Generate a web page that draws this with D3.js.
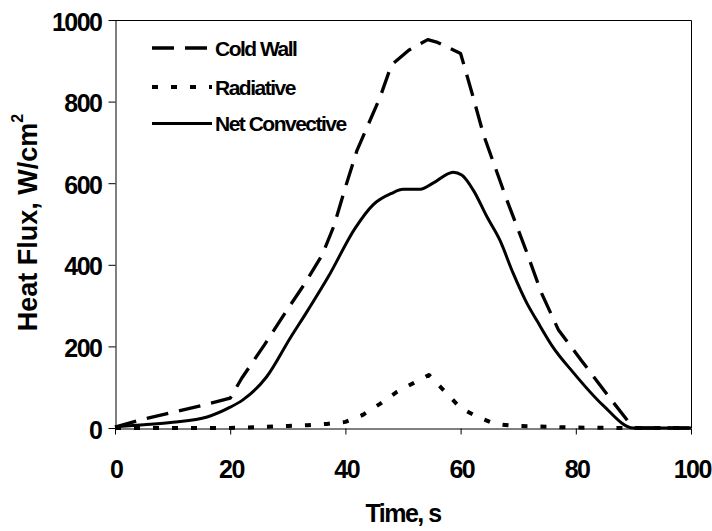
<!DOCTYPE html>
<html><head><meta charset="utf-8">
<script src="https://cdn.jsdelivr.net/npm/d3@7"></script>
<style>html,body{margin:0;padding:0;background:#fff;}svg{display:block;}</style>
</head><body>
<script>
const xTicks = [0, 20, 40, 60, 80, 100];
const yTicks = [0, 200, 400, 600, 800, 1000];
const seriesNames = ["Cold Wall", "Radiative", "Net Convective"];

const coldWallT = [0, 5, 10, 15, 20, 22, 26, 30, 33, 36, 38, 40, 42, 46, 48, 51, 54.3, 56, 60, 62, 64, 68, 71.5, 74, 77, 81, 86, 90, 95, 100];
const coldWallV = [2, 22, 38, 55, 73, 122, 205, 292, 355, 425, 495, 590, 680, 810, 890, 926, 952, 945, 918, 820, 718, 560, 430, 332, 240, 165, 72, 0, 0, 0];

const radiativeT = [0, 10, 20, 25, 30, 33.3, 36.8, 40, 43, 46, 49, 54.5, 57.3, 60, 63, 66, 69.4, 72.5, 80, 90, 100];
const radiativeV = [0, 0, 0, 2, 5, 7, 10, 15, 32, 59, 89, 130, 89, 49, 27, 10, 5, 4, 1, 0, 0];

const netConvT = [0, 5, 10, 16, 20, 22.2, 26.3, 30.4, 33.5, 37, 41.7, 44.8, 48, 50, 53, 55.2, 58.7, 60.2, 62.2, 64.6, 66.8, 69.1, 71.5, 73.3, 76, 79.5, 84.7, 90, 95, 100];
const netConvV = [3, 8, 14, 27, 51, 69, 125, 220, 289, 370, 490, 547, 575, 585, 585, 600, 627, 620, 583, 517, 461, 380, 306, 262, 199, 137, 56, 0, 0, 0];

const W = 712, H = 531;
const L = 115, R = 691, T = 20, B = 428;
const FONT = '"Liberation Sans", Arial, Helvetica, sans-serif';

const svg = d3.select("body").append("svg").attr("width", W).attr("height", H);
const x = d3.scaleLinear().domain([0, 100]).range([L, R]);
const y = d3.scaleLinear().domain([0, 1000]).range([B, T]);

// frame (top/right)
svg.append("path").attr("d", `M${L},${T + 0.5}H${R + 0.5}V${B}`)
  .attr("fill", "none").attr("stroke", "#000").attr("stroke-width", 1);

// axes
const gy = svg.append("g").attr("transform", `translate(${L + 0.5},0)`)
  .call(d3.axisLeft(y).tickValues(yTicks).tickFormat(d3.format("d")).tickSize(7).tickPadding(8).tickSizeOuter(0));
const gx = svg.append("g").attr("transform", `translate(0,${B + 0.5})`)
  .call(d3.axisBottom(x).tickValues(xTicks).tickFormat(d3.format("d")).tickSize(6).tickPadding(8).tickSizeOuter(0));
[gy, gx].forEach(g => {
  g.select(".domain").attr("stroke", "#000");
  g.selectAll(".tick line").attr("stroke", "#000");
  g.selectAll("text").attr("font-family", FONT).attr("font-size", 25)
    .attr("font-weight", "bold").attr("letter-spacing", "-1.5px").attr("fill", "#000");
});
gy.selectAll("text").attr("x", -14).attr("dy", "0.4em");
gx.selectAll("text").attr("y", 49).attr("dy", 0).attr("dx", "0.75");

// lines
const series = [
  { name: seriesNames[0], t: coldWallT, v: coldWallV, dash: "22,11", width: 3.3, curve: d3.curveLinear },
  { name: seriesNames[1], t: radiativeT, v: radiativeV, dash: "6,13", width: 4, curve: d3.curveLinear },
  { name: seriesNames[2], t: netConvT, v: netConvV, dash: null, width: 3, curve: d3.curveMonotoneX }
];
series.forEach(s => {
  const pts = s.t.map((t, i) => [t, s.v[i]]);
  const line = d3.line().x(d => x(d[0])).y(d => y(d[1])).curve(s.curve);
  svg.append("path").attr("d", line(pts)).attr("fill", "none")
    .attr("stroke", "#000").attr("stroke-width", s.width)
    .attr("stroke-dasharray", s.dash).attr("stroke-linejoin", "round");
});

// legend
const legY = [48, 87, 123.5];
series.forEach((s, i) => {
  svg.append("line").attr("x1", 152).attr("x2", 212).attr("y1", legY[i]).attr("y2", legY[i])
    .attr("stroke", "#000").attr("stroke-width", s.width).attr("stroke-dasharray", s.dash);
  svg.append("text").attr("x", 215).attr("y", legY[i] + 7.5)
    .attr("font-family", FONT).attr("font-size", 21).attr("font-weight", "bold")
    .attr("letter-spacing", "-1.5px").text(s.name);
});

// axis titles
svg.append("text").attr("x", (L + R) / 2).attr("y", 522).attr("text-anchor", "middle")
  .attr("font-family", FONT).attr("font-size", 25).attr("font-weight", "bold")
  .attr("letter-spacing", "-1.5px").text("Time, s");

const yt = svg.append("text").attr("transform", `translate(37,222.5) rotate(-90)`)
  .attr("text-anchor", "middle").attr("font-family", FONT).attr("font-size", 27)
  .attr("font-weight", "bold");
yt.append("tspan").text("Heat Flux, W/cm");
yt.append("tspan").attr("font-size", 16).attr("dy", -14).text("2");
</script>
</body></html>
